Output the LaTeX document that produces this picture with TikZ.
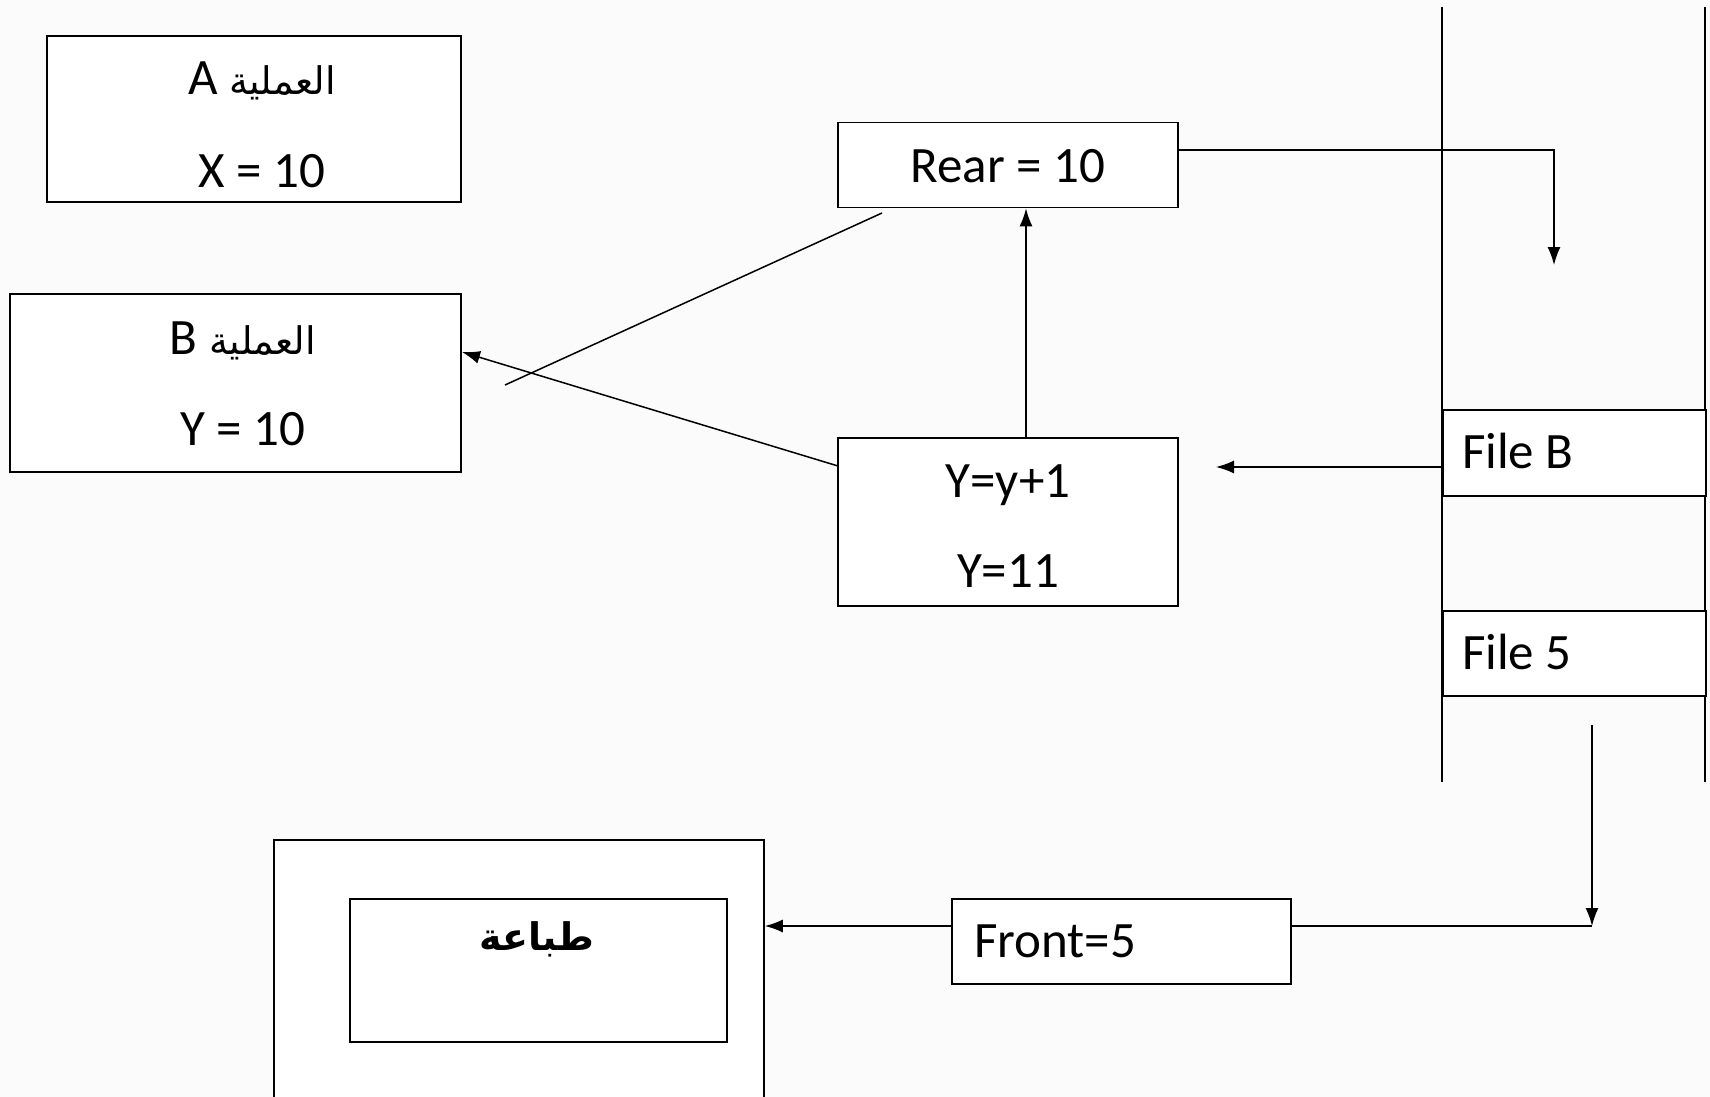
\documentclass[tikz,border=0pt]{standalone}
\usepackage{fontspec}
\setmainfont{Carlito}
\newfontfamily\arabicfont[Script=Arabic]{DejaVu Sans}
\TeXXeTstate=1
\usetikzlibrary{arrows.meta}

\tikzset{
  box/.style={draw, line width=1.8pt, fill=white, inner sep=0pt},
  txt/.style={anchor=base, inner sep=0pt, font=\fontsize{51}{51}\selectfont},
  artxt/.style={anchor=base, inner sep=0pt, font=\arabicfont\fontsize{38}{38}\selectfont},
  wire/.style={line width=1.5pt},
  arr/.style={wire, -{Latex[length=18pt,width=13pt]}},
}
\newcommand{\artitle}[1]{{\arabicfont\fontsize{38}{38}\selectfont\beginR #1\endR}}

\begin{document}
\begin{tikzpicture}[x=1pt, y=-1pt]
  % page and faint backdrop
  \fill[black!1.5] (0,0) rectangle (1710,1097);
  \useasboundingbox (0,0) rectangle (1710,1097);

  % process boxes
  \node[box, minimum width=414pt, minimum height=166pt] (pa) at (254,119) {};
  \node[box, minimum width=451pt, minimum height=178pt] (pb) at (235.5,383) {};
  \node[txt] (pat) at (262,95) {A \artitle{العملية}};
  \node[txt] (pax) at (262,187) {X = 10};
  \node[txt] (pbt) at (243,354) {B \artitle{العملية}};
  \node[txt] (pby) at (243,445) {Y = 10};

  % rear pointer and increment
  \node[box, minimum width=340pt, minimum height=85pt] (rear) at (1008,165) {};
  \node[txt] (reart) at (1008,182) {Rear = 10};
  \node[box, minimum width=340pt, minimum height=168pt] (inc) at (1008,522) {};
  \node[txt] (inc1) at (1008,497) {Y=y+1};
  \node[txt] (inc2) at (1008,587) {Y=11};

  % queue column
  \coordinate (qtl) at (1442,7);
  \coordinate (qtr) at (1705,7);
  \coordinate (qbl) at (1442,782);
  \coordinate (qbr) at (1705,782);
  \draw[wire] (qtl) -- (qbl);
  \draw[wire] (qtr) -- (qbr);
  \node[box, minimum width=263pt, minimum height=86pt, anchor=north west] (fb) at (1442,409) {};
  \node[box, minimum width=263pt, minimum height=85pt, anchor=north west] (f5) at (1442,610) {};
  \node[txt, anchor=base west] (fbt) at (1462,468) {File B};
  \node[txt, anchor=base west] (f5t) at (1462,669) {File 5};

  % printer side
  \node[box, minimum width=490pt, minimum height=280pt, anchor=north west] (prn) at (273,839) {};
  \node[box, minimum width=377pt, minimum height=143pt, anchor=north west] (prni) at (349,898) {};
  \node[artxt, font=\arabicfont\bfseries\fontsize{38}{38}\selectfont] (prnt) at (537,950) {\beginR طباعة\endR};
  \node[box, minimum width=339pt, minimum height=85pt, anchor=north west] (front) at (951,898) {};
  \node[txt, anchor=base west] (frontt) at (974,957) {Front=5};

  % connectors
  \coordinate (rearturn) at (1554,150);
  \coordinate (reardown) at (1554,265);
  \draw[arr] (rear.east |- rearturn) -- (rearturn) -- (reardown);

  \draw[arr] (inc.north -| 1026,0) -- (rear.south -| 1026,0);

  \coordinate (fbin) at (1216,467);
  \draw[arr] (qtl |- fbin) -- (fbin);

  \coordinate (bin) at (462,352);
  \draw[arr] (838,466) -- (bin);
  \coordinate (slashtop) at (882,213);
  \coordinate (slashbot) at (505,385);
  \draw[wire] (slashtop) -- (slashbot);

  \coordinate (dtop) at (1592,725);
  \coordinate (dbot) at (1592,926);
  \draw[arr] (dtop) -- (dbot);
  \draw[wire] (front.east |- dbot) -- (dbot);
  \draw[arr] (front.west |- dbot) -- (prn.east |- dbot);
\end{tikzpicture}
\end{document}
